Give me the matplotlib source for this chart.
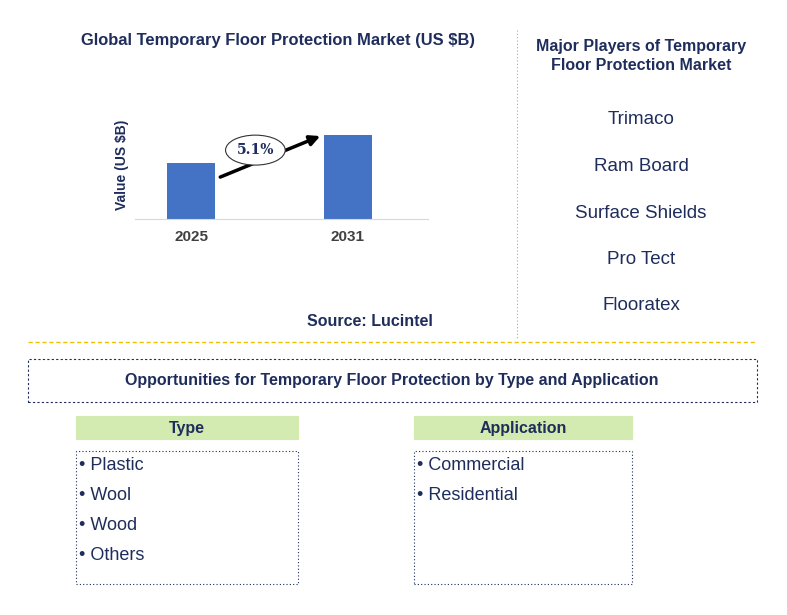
import matplotlib
matplotlib.use("Agg")
import matplotlib.pyplot as plt
from matplotlib.patches import Rectangle, Ellipse

years = ["2025", "2031"]
values = [2.0, 3.0]
cagr_label = "5.1%"
players = ["Trimaco", "Ram Board", "Surface Shields", "Pro Tect", "Flooratex"]
types = ["Plastic", "Wool", "Wood", "Others"]
applications = ["Commercial", "Residential"]

W, H = 787, 615
fig = plt.figure(figsize=(W/100, H/100), dpi=100)
navy = "#1f2d5c"
font = "Liberation Sans"
plt.rcParams["font.family"] = font

def fx(x): return x / W
def fy(y): return 1 - y / H

# chart axes
ax = fig.add_axes([fx(135), fy(219), fx(428) - fx(135), fy(110) - fy(219)])
ax.bar([0, 1], values, width=0.31, color="#4472C4")
ax.set_xlim(-0.357, 1.51)
ax.set_ylim(0, 3.0 * 109 / 84)
for s in ["top", "right", "left"]:
    ax.spines[s].set_visible(False)
ax.spines["bottom"].set_color("#d9d9d9")
ax.set_yticks([])
ax.set_xticks([0, 1])
ax.set_xticklabels(years, fontsize=11, fontweight="bold", color="#404040")
ax.tick_params(axis="x", length=0, pad=8)
ax.set_ylabel("Value (US $B)", fontsize=10, fontweight="bold", color=navy, labelpad=4)
ax.annotate("", xy=(0.84, 3.0), xytext=(0.17, 1.46),
            arrowprops=dict(arrowstyle="-|>", lw=2.5, color="black", mutation_scale=15))
ax.add_patch(Ellipse((0.41, 2.46), 0.38, 1.07, facecolor="white", edgecolor="#333333", lw=0.8, zorder=5))
ax.text(0.41, 2.46, cagr_label, ha="center", va="center", fontsize=10, fontweight="bold",
        fontfamily="DejaVu Serif", zorder=6, color=navy)

fig.text(fx(278), fy(41), "Global Temporary Floor Protection Market (US $B)", ha="center", va="center",
         fontsize=11.9, fontweight="bold", color=navy)
fig.text(fx(370), fy(322), "Source: Lucintel", ha="center", va="center", fontsize=11.5, fontweight="bold", color=navy)

fig.text(fx(641), fy(56), "Major Players of Temporary\nFloor Protection Market", ha="center", va="center",
         fontsize=11.5, fontweight="bold", color=navy, linespacing=1.3)
for i, p in enumerate(players):
    fig.text(fx(641), fy(120 + i * 46.5), p, ha="center", va="center", fontsize=13.5, color=navy)

# separators
fig.add_artist(plt.Line2D([fx(517), fx(517)], [fy(30), fy(340)], color="#aaaaaa", lw=0.8, ls=(0, (1, 2))))
fig.add_artist(plt.Line2D([fx(28), fx(757)], [fy(342), fy(342)], color="#f0c000", lw=1, ls=(0, (3, 2))))

def box(x0, y0, x1, y1, fc="none", ec=navy, ls=(0, (2, 2)), lw=0.8):
    fig.add_artist(Rectangle((fx(x0), fy(y1)), fx(x1) - fx(x0), fy(y0) - fy(y1),
                             facecolor=fc, edgecolor=ec, ls=ls, lw=lw, transform=fig.transFigure))

box(28, 359, 757, 402)
fig.text(fx(392), fy(381), "Opportunities for Temporary Floor Protection by Type and Application",
         ha="center", va="center", fontsize=11.5, fontweight="bold", color=navy)

for (x0, x1, title, items) in [(76, 298, "Type", types), (414, 632, "Application", applications)]:
    box(x0, 416, x1, 439, fc="#d3ebb0", ec="#d3ebb0", ls="-")
    fig.text(fx((x0 + x1) / 2), fy(429), title, ha="center", va="center", fontsize=11.5, fontweight="bold", color=navy)
    box(x0, 451, x1, 584, ls=(0, (1, 2)))
    for i, it in enumerate(items):
        fig.text(fx(x0 + 3), fy(466 + i * 30), "\u2022 " + it, ha="left", va="center", fontsize=13, color=navy)

fig.savefig("out.png", dpi=100)
